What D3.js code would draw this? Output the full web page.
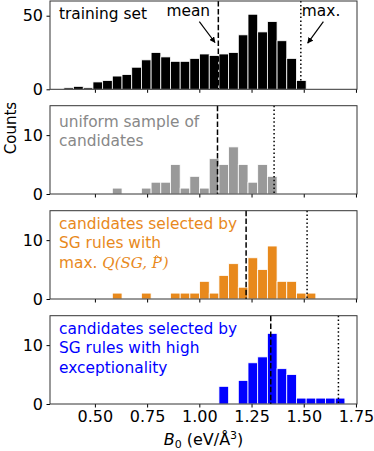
<!DOCTYPE html>
<html>
<head>
<meta charset="utf-8">
<script src="https://cdn.jsdelivr.net/npm/d3@7"></script>
<style>
  body { margin: 0; background: #fff; }
  svg text { font-family: "DejaVu Sans", sans-serif; }
</style>
</head>
<body>
<div id="chart"></div>
<script>
// histogram bins shared by every panel
const binStart = 0.3515;
const binWidth = 0.0464;

// counts per bin (29 bins)
const trainingCounts = [1, 2, 1, 5, 6, 9, 10, 15, 20, 25, 22, 19, 19, 21, 24, 23, 24, 25, 37, 51, 39, 46, 33, 21, 6, 0, 0, 0, 0];
const uniformCounts  = [0, 0, 0, 0, 0, 1, 0, 0, 1, 2, 2, 5, 1, 3, 1, 6, 5, 8, 5, 2, 5, 3, 0, 0, 0, 0, 0, 0, 0];
const qualityCounts  = [0, 0, 0, 0, 0, 1, 0, 0, 1, 0, 0, 1, 1, 1, 3, 1, 4, 6, 2, 7, 5, 9, 3, 3, 1, 1, 0, 0, 0];
const exceptCounts   = [0, 0, 0, 0, 0, 0, 0, 0, 0, 0, 0, 0, 0, 0, 0, 0, 3, 0, 4, 7, 8, 12, 6, 5, 1, 1, 1, 1, 1];

const means = [1.091, 1.087, 1.224, 1.342];
const maxes = [1.486, 1.358, 1.516, 1.666];

const yMax = [60, 15, 15, 15];
const yTicks = [[0, 50], [0, 10], [0, 10], [0, 10]];
const xTicks = [0.50, 0.75, 1.00, 1.25, 1.50, 1.75];

const colors = ["#000000", "#999999", "#e8891c", "#0000ff"];
const textColors = ["#000000", "#888888", "#e8891c", "#0000ff"];
const labels = [
  ["training set"],
  ["uniform sample of", "candidates"],
  ["candidates selected by", "SG rules with", "max. "],
  ["candidates selected by", "SG rules with high", "exceptionality"]
];

const series = [trainingCounts, uniformCounts, qualityCounts, exceptCounts];

const width = 374, height = 451;
const left = 50, right = 357;
const panelTops = [1, 105.7, 210.7, 315.7];
const panelH = 88.3;

const svg = d3.select("#chart").append("svg")
  .attr("width", width)
  .attr("height", height);

const x = d3.scaleLinear().domain([0.285, 1.755]).range([left, right]);

svg.append("defs").append("marker")
  .attr("id", "head")
  .attr("viewBox", "0 0 10 10")
  .attr("refX", 9).attr("refY", 5)
  .attr("markerWidth", 6).attr("markerHeight", 6)
  .attr("markerUnits", "userSpaceOnUse")
  .attr("orient", "auto")
  .append("path")
  .attr("d", "M0,0L10,5L0,10z")
  .attr("fill", "#000");

series.forEach((counts, i) => {
  const top = panelTops[i];
  const y = d3.scaleLinear().domain([0, yMax[i]]).range([top + panelH, top]);
  const g = svg.append("g");

  const bins = counts.map((c, k) => ({ x0: binStart + k * binWidth, x1: binStart + (k + 1) * binWidth, n: c }))
    .filter(d => d.n > 0);

  g.selectAll("rect.bar").data(bins).join("rect")
    .attr("class", "bar")
    .attr("x", d => x(d.x0))
    .attr("width", d => x(d.x1) - x(d.x0))
    .attr("y", d => y(d.n))
    .attr("height", d => y(0) - y(d.n))
    .attr("fill", colors[i])
    .attr("stroke", "#fff")
    .attr("stroke-width", 0.8);

  // mean and max lines
  g.append("line")
    .attr("x1", x(means[i])).attr("x2", x(means[i]))
    .attr("y1", top).attr("y2", top + panelH)
    .attr("stroke", "#000").attr("stroke-width", 1.5)
    .attr("stroke-dasharray", "5.5,2.4");
  g.append("line")
    .attr("x1", x(maxes[i])).attr("x2", x(maxes[i]))
    .attr("y1", top).attr("y2", top + panelH)
    .attr("stroke", "#000").attr("stroke-width", 1.5)
    .attr("stroke-dasharray", "1.5,2.4");

  // axes
  const xAxis = d3.axisBottom(x).tickValues(xTicks).tickSize(3.5).tickPadding(3.5)
    .tickFormat(i === 3 ? d3.format(".2f") : () => "");
  const xg = g.append("g").attr("transform", `translate(0,${top + panelH})`).call(xAxis);
  xg.select(".domain").remove();
  xg.selectAll("text").attr("font-size", 16).attr("font-family", "DejaVu Sans").attr("fill", "#000");

  const yAxis = d3.axisLeft(y).tickValues(yTicks[i]).tickSize(3.5).tickPadding(3.5);
  const yg = g.append("g").attr("transform", `translate(${left},0)`).call(yAxis);
  yg.select(".domain").remove();
  yg.selectAll("text").attr("font-size", 16).attr("font-family", "DejaVu Sans").attr("fill", "#000");

  g.append("rect")
    .attr("x", left).attr("y", top)
    .attr("width", right - left).attr("height", panelH)
    .attr("fill", "none").attr("stroke", "#333").attr("stroke-width", 1);

  // panel label
  const t = g.append("text")
    .attr("font-family", "Open Sans")
    .attr("font-size", 15.4)
    .attr("fill", textColors[i]);
  labels[i].forEach((line, k) => {
    t.append("tspan")
      .attr("x", 59)
      .attr("y", top + (i === 1 ? 21 : 18) + k * 19.6)
      .text(line);
  });
  if (i === 2) {
    const m = t.append("tspan").attr("font-family", "DejaVu Serif").attr("font-style", "italic").attr("font-size", 15);
    m.append("tspan").text("Q(SG, ");
    const p = m.append("tspan").text("P");
    m.append("tspan").attr("dx", 1).text(")");
    // tilde accent over P, drawn as a small curve
    const box = p.node().getExtentOfChar(0);
    const cx = box.x + box.width / 2 + 1.5, cy = box.y + 2;
    g.append("path")
      .attr("d", `M${cx - 3.5},${cy + 1} q1.75,-2.5 3.5,0 t3.5,0`)
      .attr("fill", "none")
      .attr("stroke", textColors[i])
      .attr("stroke-width", 1);
  }

  if (i === 0) {
    const notes = [
      { label: "mean", tx: 0.947, ty: 49.5, x0: 1.0, y0: 46, x1: 1.075, y1: 31.8 },
      { label: "max.", tx: 1.583, ty: 49.5, x0: 1.594, y0: 46, x1: 1.519, y1: 31.4 }
    ];
    notes.forEach(n => {
      g.append("text")
        .attr("x", x(n.tx)).attr("y", y(n.ty))
        .attr("text-anchor", "middle")
        .attr("font-family", "Open Sans").attr("font-size", 15.4)
        .text(n.label);
      g.append("line")
        .attr("x1", x(n.x0)).attr("y1", y(n.y0))
        .attr("x2", x(n.x1)).attr("y2", y(n.y1))
        .attr("stroke", "#000").attr("stroke-width", 1.2)
        .attr("marker-end", "url(#head)");
    });
  }
});

svg.append("text")
  .attr("transform", "translate(16,128) rotate(-90)")
  .attr("text-anchor", "middle")
  .attr("font-size", 15)
  .text("Counts");

const xl = svg.append("text")
  .attr("x", (left + right) / 2).attr("y", 445)
  .attr("text-anchor", "middle")
  .attr("font-size", 16);
xl.append("tspan").attr("font-style", "italic").text("B");
xl.append("tspan").attr("font-size", 11).attr("dy", 3).text("0");
xl.append("tspan").attr("dy", -3).text(" (eV/Å");
xl.append("tspan").attr("font-size", 11).attr("dy", -6).text("3");
xl.append("tspan").attr("dy", 6).text(")");
</script>
</body>
</html>
